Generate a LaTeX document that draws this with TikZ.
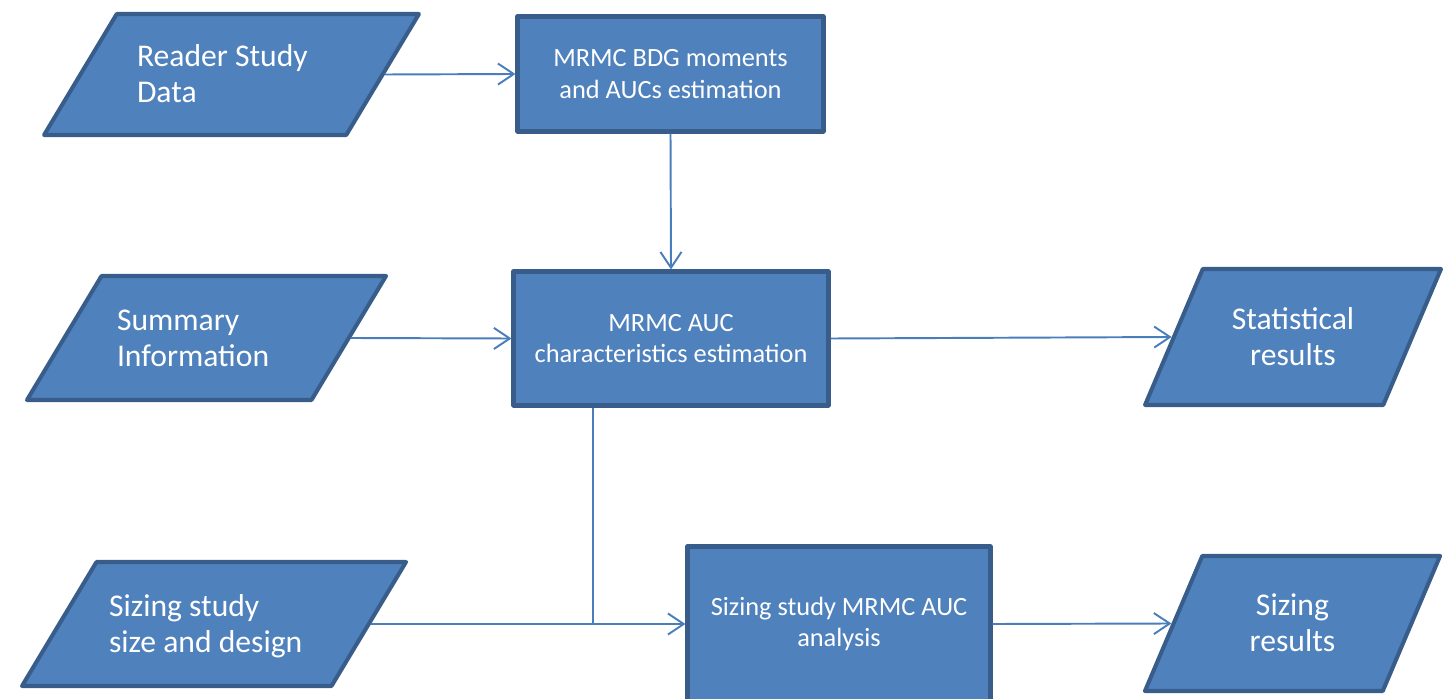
\documentclass[tikz,border=0pt]{standalone}
\usepackage{fontspec}
\setmainfont{Carlito}
\usetikzlibrary{shapes.geometric}
\usetikzlibrary{arrows.meta}
\usetikzlibrary{positioning}

\definecolor{boxfill}{HTML}{4F81BD}
\definecolor{boxline}{HTML}{385D8A}
\definecolor{linkcol}{HTML}{4A7EBB}

\begin{document}
\begin{tikzpicture}[
  proc/.style={draw=boxline,fill=boxfill,line width=2.3pt,line join=round,text=white,align=center,inner sep=0pt,font=\fontsize{15}{18}\selectfont},
  data/.style={trapezium,draw=boxline,fill=boxfill,line width=2.3pt,line join=round,text=white,text height=0pt,text depth=0.31cm,font=\fontsize{18}{20.4}\selectfont},
  indata/.style={data,trapezium left angle=59,trapezium right angle=121,align=flush left},
  outdata/.style={data,trapezium left angle=67,trapezium right angle=113,align=center,text width=3.61cm,inner xsep=0pt},
  link/.style={draw=linkcol,line width=1.1pt,-{Straight Barb[length=9pt,width=12pt]}}]
  \useasboundingbox (0,0) rectangle (29.04,-13.98);
  % inputs
  \node[indata,text width=3.78cm,inner xsep=0.405cm,inner ysep=1.055cm] (rsd) at (4.63,-1.49) {Reader Study\\Data};
  \node[indata,text width=3.58cm,inner xsep=0.31cm,inner ysep=1.085cm] (sum) at (4.13,-6.76) {Summary\\Information};
  \node[indata,text width=4.2cm,inner xsep=0.25cm,inner ysep=1.085cm] (siz) at (4.28,-12.48) {Sizing study\\size and design};
  % processing
  \node[proc,minimum width=6.12cm,minimum height=2.3cm] (mom) at (13.41,-1.48) {MRMC BDG moments\\and AUCs estimation};
  \node[proc,minimum width=6.3cm,minimum height=2.68cm] (auc) at (13.42,-6.77) {MRMC AUC\\characteristics estimation};
  \node[proc,minimum width=6.06cm,minimum height=3.1cm] (ana) at (16.78,-12.48) {Sizing study MRMC AUC\\analysis};
  % outputs
  \node[outdata,inner ysep=1.205cm] (stat) at (25.86,-6.74) {Statistical\\results};
  \node[outdata,inner ysep=1.195cm] (res) at (25.85,-12.47) {Sizing\\results};
  \coordinate (tee) at ([xshift=-1.56cm]auc.south |- siz.east);
  \draw[link] (rsd.east) -- (mom.west);
  \draw[link] (mom.south) -- (auc.north);
  \draw[link] (sum.east) -- (auc.west);
  \draw[link] (auc.east) -- (stat.west);
  \draw[link] (siz.east) -- (ana.west);
  \draw[link] (ana.east) -- (res.west);
  \draw[link,-] ([xshift=-1.56cm]auc.south) -- (tee);
\end{tikzpicture}
\end{document}
